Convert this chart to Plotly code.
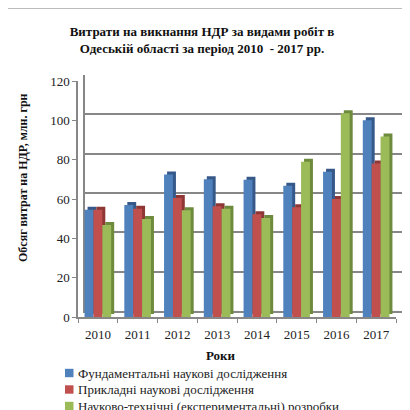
import plotly.graph_objects as go

# data
years = ["2010", "2011", "2012", "2013", "2014", "2015", "2016", "2017"]
fundamental = [54.5, 57, 72.5, 70, 69.8, 66.8, 73.8, 100]
applied = [54.5, 55, 60.5, 56.3, 52.2, 55.8, 60, 78]
experimental = [46.8, 49.8, 54.3, 55, 50.3, 78.9, 103.6, 91.8]
y_ticks = [0, 20, 40, 60, 80, 100, 120]

names = ["Фундаментальні наукові дослідження",
         "Прикладні наукові дослідження",
         "Науково-технічні (експериментальні) розробки"]
front_colors = ["#4F81BD", "#C0504D", "#9BBB59"]
side_colors = ["#36598A", "#8E3734", "#6E8A3C"]
series = [fundamental, applied, experimental]

font = "Liberation Serif, Times New Roman, serif"
grid = "#878787"

# the page body has an 8px margin, so the figure is 402px and starts at (8, 8)
PAGE = 8
# plot area is 328 x 242 px (page x 78..406, y 75..317); back wall shifted, bar sides 3px
W, H = 328.0, 242.0


def px_x(p):
    return (p - 78) / W


def px_y(p):
    return (317 - p) / H


fig = go.Figure()

# dark copies behind the bars give the 3d side faces
for vals, c in zip(series, side_colors):
    fig.add_trace(go.Bar(x=years, y=vals, marker=dict(color=c, line_width=0),
                         xaxis="x2", yaxis="y2", showlegend=False, hoverinfo="skip"))

for vals, c, n in zip(series, front_colors, names):
    fig.add_trace(go.Bar(x=years, y=vals, name=n, marker=dict(color=c, line_width=0),
                         xaxis="x3", yaxis="y3", showlegend=False))

# invisible trace to activate back wall axes
fig.add_trace(go.Bar(x=years, y=[0] * len(years), showlegend=False, hoverinfo="skip",
                     xaxis="x", yaxis="y"))

fig.update_layout(
    width=410 - PAGE, height=410 - PAGE,
    margin=dict(l=78 - PAGE, r=4, t=75 - PAGE, b=93, autoexpand=False),
    paper_bgcolor="white", plot_bgcolor="rgba(0,0,0,0)",
    barmode="group", bargap=0.33, bargroupgap=0,
    font=dict(family=font, size=13, color="#222"),
    title=dict(text="<b>Витрати на викнання НДР за видами робіт в<br>Одеській області за період 2010  - 2017 рр.</b>",
               x=px_x(202), xref="paper", xanchor="center",
               y=1 - (36 - PAGE) / (410 - PAGE), yref="container", yanchor="middle",
               font=dict(family=font, size=13, color="#111")),
    # back wall
    xaxis=dict(domain=[7 / W, 1], type="category", showticklabels=False, showgrid=False,
               showline=True, linecolor=grid, linewidth=1.5, anchor="y"),
    yaxis=dict(domain=[6 / H, 1], range=[0, 120], tickvals=y_ticks, showticklabels=False,
               showgrid=True, gridcolor=grid, gridwidth=1.6, zeroline=False,
               showline=True, linecolor=grid, linewidth=1.5, anchor="x"),
    # bar sides
    xaxis2=dict(domain=[3 / W, 321 / W], type="category", visible=False, anchor="y2"),
    yaxis2=dict(domain=[3 / H, 239 / H], range=[0, 120], visible=False, anchor="x2"),
    # front axes
    xaxis3=dict(domain=[0, 318 / W], type="category", showgrid=False, anchor="y3",
                showline=True, linecolor=grid, linewidth=1.5,
                ticks="outside", tickson="boundaries", ticklen=4, tickcolor=grid,
                ticklabelstandoff=5,
                tickfont=dict(family=font, size=13, color="#222")),
    yaxis3=dict(domain=[0, 236 / H], range=[0, 120], tickvals=y_ticks, showgrid=False,
                zeroline=False, anchor="x3",
                showline=True, linecolor=grid, linewidth=1.5,
                ticks="outside", ticklen=4, tickcolor=grid,
                tickfont=dict(family=font, size=13, color="#222")),
    showlegend=False,
)

# legend drawn by hand to keep the tight row spacing
for i, (n, c) in enumerate(zip(names, front_colors)):
    yc = 373 + i * 16.5
    fig.add_shape(type="rect", xref="paper", yref="paper",
                  x0=px_x(65), x1=px_x(73.5), y0=px_y(yc + 4.2), y1=px_y(yc - 4.2),
                  fillcolor=c, line_width=0)
    fig.add_annotation(text=n, x=px_x(75.5), y=px_y(yc), xref="paper", yref="paper",
                       xanchor="left", yanchor="middle", showarrow=False,
                       font=dict(family=font, size=13, color="#222"))

# axis titles
fig.add_annotation(text="<b>Обсяг витрат на НДР, млн. грн</b>", textangle=-90,
                   x=px_x(23), y=px_y(178), xref="paper", yref="paper",
                   xanchor="center", yanchor="middle",
                   showarrow=False, font=dict(family=font, size=12, color="#111"))
fig.add_annotation(text="<b>Роки</b>", x=px_x(221), y=px_y(355),
                   xref="paper", yref="paper", xanchor="center", yanchor="middle",
                   showarrow=False, font=dict(family=font, size=13, color="#111"))

# chart border
fig.add_shape(type="rect", xref="paper", yref="paper",
              x0=px_x(4), x1=px_x(440), y0=px_y(440), y1=px_y(8),
              line=dict(color="#a6a6a6", width=1.5), layer="below")

fig.write_html("out.html")
